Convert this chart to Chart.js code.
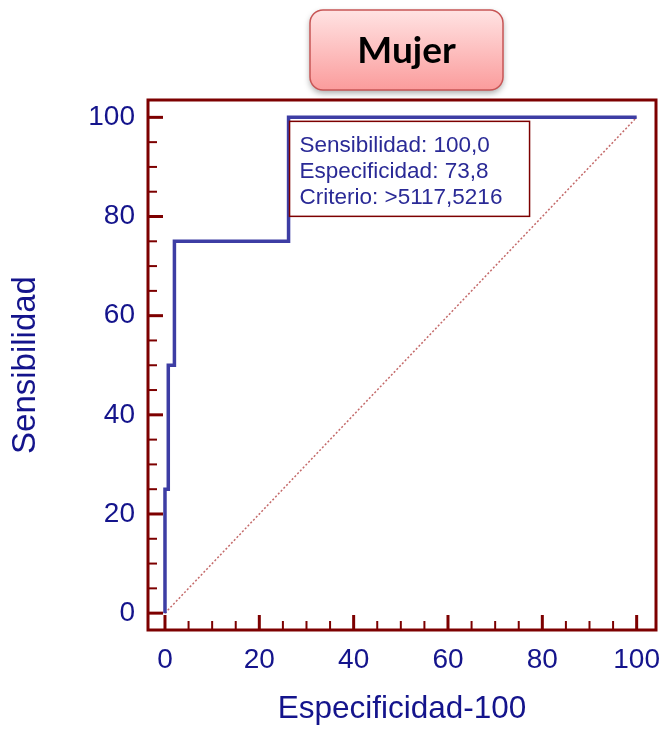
<!DOCTYPE html>
<html>
<head>
<meta charset="utf-8">
<script src="https://cdn.jsdelivr.net/npm/chart.js@4/dist/chart.umd.min.js"></script>
<style>
  html, body { margin: 0; padding: 0; background: #ffffff; }
  #wrap { width: 666px; height: 731px; position: relative; }
</style>
</head>
<body>
<div id="wrap"><canvas id="roc" width="666" height="731"></canvas></div>
<script>
// ROC curve for the "Mujer" group
const chartTitle = 'Mujer';
const xTitle = 'Especificidad-100';
const yTitle = 'Sensibilidad';

// curve vertices: 100 - specificity (x) vs sensitivity (y)
const rocFalsePos    = [0, 0, 0.7, 0.7, 2, 2, 26.2, 26.2, 100];
const rocSensitivity = [0, 25, 25, 50, 50, 75, 75, 100, 100];

// chance diagonal
const diagX = [0, 100];
const diagY = [0, 100];

// axis ticks
const majorTicks = [0, 20, 40, 60, 80, 100];
const minorTicks = [0, 5, 10, 15, 20, 25, 30, 35, 40, 45, 50, 55, 60, 65, 70, 75, 80, 85, 90, 95, 100];

// optimal cut-off
const cutSensitivity = 100.0;
const cutSpecificity = 73.8;
const cutCriterion = '>5117,5216';

const fmt = v => v.toFixed(1).replace('.', ',');
const LABEL_FONT = '"Liberation Sans", Arial, sans-serif';
const NAVY = '#14148c';
const FRAME = '#7d0000';

const toPoints = (xs, ys) => xs.map((v, i) => ({ x: v, y: ys[i] }));

const frameAndTicks = {
  id: 'frameAndTicks',
  beforeDatasetsDraw(chart) {
    const { ctx, chartArea: a, scales: { x, y } } = chart;
    ctx.save();
    ctx.strokeStyle = FRAME;
    ctx.lineCap = 'butt';
    minorTicks.forEach(v => {
      const major = majorTicks.includes(v);
      const len = major ? 15 : 9;
      ctx.lineWidth = major ? 3 : 2;
      const px = x.getPixelForValue(v);
      ctx.beginPath();
      ctx.moveTo(px, a.bottom);
      ctx.lineTo(px, a.bottom - len);
      ctx.stroke();
      const py = y.getPixelForValue(v);
      ctx.beginPath();
      ctx.moveTo(a.left, py);
      ctx.lineTo(a.left + len, py);
      ctx.stroke();
    });
    ctx.lineWidth = 3;
    ctx.strokeRect(a.left, a.top, a.right - a.left, a.bottom - a.top);
    ctx.restore();
  }
};

const cutoffBox = {
  id: 'cutoffBox',
  afterDatasetsDraw(chart) {
    const { ctx, scales: { x, y } } = chart;
    const left = x.getPixelForValue(100 - cutSpecificity) + 1;
    const top = y.getPixelForValue(cutSensitivity) + 4;
    const w = 240, h = 95;
    ctx.save();
    ctx.fillStyle = '#ffffff';
    ctx.fillRect(left, top, w, h);
    ctx.strokeStyle = FRAME;
    ctx.lineWidth = 1.5;
    ctx.strokeRect(left, top, w, h);
    ctx.fillStyle = '#2a2a96';
    ctx.font = '22.5px ' + LABEL_FONT;
    ctx.textBaseline = 'alphabetic';
    ctx.textAlign = 'left';
    const lines = [
      'Sensibilidad: ' + fmt(cutSensitivity),
      'Especificidad: ' + fmt(cutSpecificity),
      'Criterio: ' + cutCriterion
    ];
    lines.forEach((t, i) => ctx.fillText(t, left + 10, top + 31 + i * 26));
    ctx.restore();
  }
};

const titleBox = {
  id: 'titleBox',
  afterDraw(chart) {
    const { ctx } = chart;
    const bx = 310, by = 10, bw = 193, bh = 80, r = 13;
    ctx.save();
    ctx.beginPath();
    ctx.roundRect(bx, by, bw, bh, r);
    ctx.shadowColor = 'rgba(0,0,0,0.35)';
    ctx.shadowBlur = 6;
    ctx.shadowOffsetY = 3;
    const g = ctx.createLinearGradient(0, by, 0, by + bh);
    g.addColorStop(0, '#ffe3e3');
    g.addColorStop(1, '#fb9c9c');
    ctx.fillStyle = g;
    ctx.fill();
    ctx.shadowColor = 'transparent';
    ctx.lineWidth = 1.5;
    ctx.strokeStyle = '#c85555';
    ctx.stroke();
    ctx.fillStyle = '#000000';
    ctx.font = 'bold 37px Lato, "Open Sans", sans-serif';
    ctx.textAlign = 'center';
    ctx.textBaseline = 'middle';
    ctx.fillText(chartTitle, bx + bw / 2, by + bh / 2 + 1);
    ctx.restore();
  }
};

new Chart(document.getElementById('roc'), {
  type: 'line',
  data: {
    datasets: [
      {
        data: toPoints(diagX, diagY),
        borderColor: '#c46a6a',
        borderWidth: 1.5,
        borderDash: [2, 2],
        pointRadius: 0,
        fill: false,
        order: 2
      },
      {
        data: toPoints(rocFalsePos, rocSensitivity),
        borderColor: '#3d3da4',
        borderWidth: 3.5,
        pointRadius: 0,
        fill: false,
        tension: 0,
        order: 1
      }
    ]
  },
  options: {
    responsive: false,
    animation: false,
    devicePixelRatio: 1,
    layout: { padding: { top: 100, right: 10, left: 0, bottom: 0 } },
    plugins: { legend: { display: false }, tooltip: { enabled: false } },
    scales: {
      x: {
        type: 'linear',
        min: -3.6,
        max: 104.1,
        grid: { display: false, drawTicks: false },
        border: { display: false },
        afterBuildTicks: s => { s.ticks = minorTicks.map(v => ({ value: v })); },
        afterFit: s => { s.height = 101; s.paddingLeft = 0; s.paddingRight = 0; },
        ticks: {
          autoSkip: false,
          maxRotation: 0,
          padding: 13,
          color: NAVY,
          font: { family: LABEL_FONT, size: 28 },
          callback: v => (majorTicks.includes(v) ? String(v) : '')
        },
        title: {
          display: true,
          text: xTitle,
          color: NAVY,
          font: { family: LABEL_FONT, size: 31.5 },
          padding: { top: 0, bottom: 3 }
        }
      },
      y: {
        type: 'linear',
        min: -3.4,
        max: 103.5,
        grid: { display: false, drawTicks: false },
        border: { display: false },
        afterBuildTicks: s => { s.ticks = minorTicks.map(v => ({ value: v })); },
        afterFit: s => { s.width = 148; s.paddingTop = 0; s.paddingBottom = 0; },
        ticks: {
          autoSkip: false,
          padding: 13,
          color: NAVY,
          font: { family: LABEL_FONT, size: 28 },
          callback: v => (majorTicks.includes(v) ? String(v) : '')
        },
        title: {
          display: true,
          text: yTitle,
          color: NAVY,
          font: { family: LABEL_FONT, size: 33 },
          padding: { top: 6, bottom: 0 }
        }
      }
    }
  },
  plugins: [frameAndTicks, cutoffBox, titleBox]
});
</script>
</body>
</html>
